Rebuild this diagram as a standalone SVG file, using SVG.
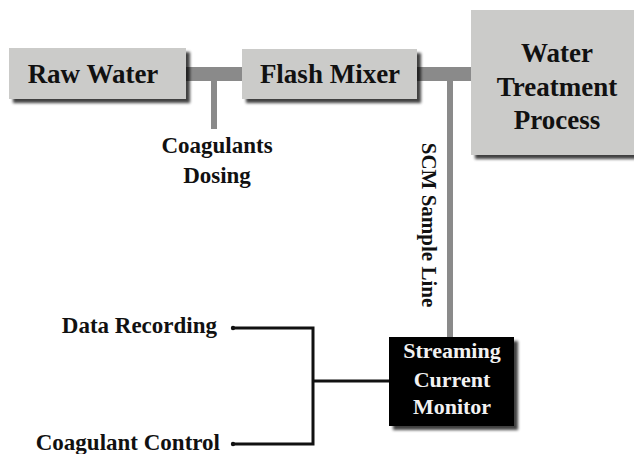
<svg xmlns="http://www.w3.org/2000/svg" width="634" height="454" viewBox="0 0 634 454">
<defs>
<filter id="sh" x="-10%" y="-10%" width="130%" height="130%">
<feGaussianBlur in="SourceAlpha" stdDeviation="1.6"/>
<feOffset dx="4" dy="4" result="b"/>
<feComponentTransfer><feFuncA type="linear" slope="0.75"/></feComponentTransfer>
<feMerge><feMergeNode/><feMergeNode in="SourceGraphic"/></feMerge>
</filter>
<style>
.box{fill:#cbcbc9;filter:url(#sh)}
.dark{fill:#000;filter:url(#sh)}
.t{font-family:"Liberation Serif","Times New Roman",serif;font-weight:bold;text-anchor:middle;fill:#111}
.big{font-size:27px}
.mid{font-size:23px}
.w{fill:#f2f2f2;font-size:22px}
.pipe{fill:#8a8a8a}
.wire{stroke:#111;stroke-width:3;fill:none}
</style>
</defs>
<rect width="634" height="454" fill="#fff"/>
<g id="connectors">
<rect class="pipe" x="176" y="67" width="76" height="14"/>
<rect class="pipe" x="211" y="81" width="6" height="48"/>
<rect class="pipe" x="409" y="67" width="76" height="14"/>
<rect class="pipe" x="447" y="81" width="6" height="257"/>
<path class="wire" d="M233 328H313V444H233M313 381H389"/>
<circle cx="233" cy="328" r="2.2" fill="#111"/>
<circle cx="233" cy="444" r="2.2" fill="#111"/>
</g>
<g id="raw-water">
<rect class="box" x="9" y="48" width="177" height="51"/>
<text class="t big" x="93" y="83">Raw Water</text>
</g>
<g id="flash-mixer">
<rect class="box" x="242" y="49" width="175" height="50"/>
<text class="t big" x="330" y="83">Flash Mixer</text>
</g>
<g id="water-treatment">
<rect class="box" x="471" y="10" width="170" height="145"/>
<text class="t big" x="557" y="62">Water</text>
<text class="t big" x="557" y="96">Treatment</text>
<text class="t big" x="557" y="129">Process</text>
</g>
<g id="coagulants-dosing">
<text class="t mid" x="217" y="153">Coagulants</text>
<text class="t mid" x="217" y="183">Dosing</text>
</g>
<g id="scm-sample-line">
<text class="t" font-size="21" transform="translate(422 225) rotate(90)">SCM Sample Line</text>
</g>
<g id="streaming-current-monitor">
<rect class="dark" x="389" y="337" width="125" height="89"/>
<text class="t w" x="452" y="358">Streaming</text>
<text class="t w" x="452" y="387">Current</text>
<text class="t w" x="452" y="414">Monitor</text>
</g>
<g id="data-recording">
<text class="t mid" x="217" y="333" style="text-anchor:end">Data Recording</text>
</g>
<g id="coagulant-control">
<text class="t mid" x="220" y="450" style="text-anchor:end">Coagulant Control</text>
</g>
</svg>
